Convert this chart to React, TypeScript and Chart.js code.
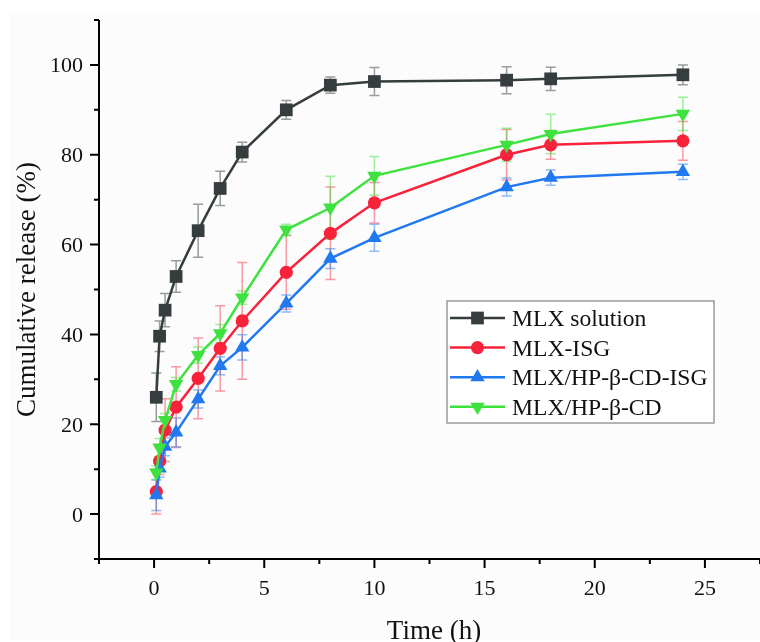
import React, { useEffect, useRef } from 'react';
import { Chart, registerables } from 'chart.js';

Chart.register(...registerables);

// ---------- data ----------
const timeH = [0.1, 0.25, 0.5, 1, 2, 3, 4, 6, 8, 10, 16, 18, 24];
const seriesLabels = ['MLX solution', 'MLX-ISG', 'MLX/HP-β-CD-ISG', 'MLX/HP-β-CD'];
const mlxSolution = [26.0, 39.6, 45.4, 52.9, 63.1, 72.5, 80.6, 90.0, 95.5, 96.3, 96.6, 96.9, 97.8];
const mlxSolutionErr = [5.4, 3.4, 3.7, 3.5, 5.9, 3.8, 2.2, 2.1, 1.8, 3.1, 3.0, 2.6, 2.2];
const mlxIsg = [5.0, 11.8, 18.7, 23.8, 30.2, 36.9, 43.0, 53.8, 62.5, 69.3, 80.0, 82.2, 83.1];
const mlxIsgErr = [5.0, 3.0, 7.0, 9.0, 9.0, 9.5, 13.0, 8.2, 10.3, 4.5, 5.6, 3.2, 4.3];
const mlxHpIsg = [4.2, 10.2, 15.0, 18.2, 25.6, 33.0, 37.1, 46.9, 56.9, 61.5, 72.8, 74.9, 76.2];
const mlxHpIsgErr = [3.4, 2.0, 2.0, 3.2, 2.0, 2.0, 2.8, 1.9, 2.2, 3.0, 2.0, 1.7, 1.7];
const mlxHp = [9.2, 14.8, 20.9, 28.9, 35.4, 40.2, 48.2, 63.3, 68.2, 75.3, 82.2, 84.6, 89.1];
const mlxHpErr = [1.5, 2.0, 1.5, 1.5, 1.8, 2.0, 1.5, 1.2, 7.0, 4.3, 3.7, 4.4, 3.7];

const xTickValues = [0, 5, 10, 15, 20, 25];
const yTickValues = [0, 20, 40, 60, 80, 100];
const xTitle = 'Time (h)';
const yTitle = 'Cumulative release (%)';

const seriesValues = [mlxSolution, mlxIsg, mlxHpIsg, mlxHp];
const seriesErrors = [mlxSolutionErr, mlxIsgErr, mlxHpIsgErr, mlxHpErr];

// ---------- styles ----------
const COLORS = ['#353d3e', '#f8223a', '#2179f0', '#3ee23e'];
const ERR_COLORS = ['rgba(53,61,62,0.5)', 'rgba(248,34,58,0.45)', 'rgba(33,121,240,0.5)', 'rgba(62,226,62,0.5)'];
const STYLES: any[] = ['rect', 'circle', 'triangle', 'triangle'];
const ROTS = [0, 0, 0, 180];
const RADII = [9, 6.6, 8.3, 8.3];
const ORDERS = [3, 2, 1, 0];
const FONT = "'Liberation Serif', 'Times New Roman', serif";

function drawMarker(ctx: CanvasRenderingContext2D, i: number, x: number, y: number) {
  const r = RADII[i];
  ctx.save();
  ctx.fillStyle = COLORS[i];
  ctx.beginPath();
  if (STYLES[i] === 'rect') {
    const s = Math.SQRT1_2 * r;
    ctx.rect(x - s, y - s, 2 * s, 2 * s);
  } else if (STYLES[i] === 'circle') {
    ctx.arc(x, y, r, 0, Math.PI * 2);
  } else {
    let rad = (ROTS[i] * Math.PI) / 180;
    ctx.moveTo(x + Math.sin(rad) * r, y - Math.cos(rad) * r);
    rad += (2 * Math.PI) / 3;
    ctx.lineTo(x + Math.sin(rad) * r, y - Math.cos(rad) * r);
    rad += (2 * Math.PI) / 3;
    ctx.lineTo(x + Math.sin(rad) * r, y - Math.cos(rad) * r);
    ctx.closePath();
  }
  ctx.fill();
  ctx.restore();
}

const customPlugin = {
  id: 'customDecor',
  beforeDraw(chart: any) {
    const ctx = chart.ctx as CanvasRenderingContext2D;
    ctx.save();
    ctx.fillStyle = '#ffffff';
    ctx.fillRect(0, 0, chart.width, chart.height);
    ctx.fillStyle = '#fcfcfc';
    ctx.fillRect(10, 12, chart.width - 10, 628);
    ctx.restore();
  },
  beforeDatasetsDraw(chart: any) {
    const ctx = chart.ctx as CanvasRenderingContext2D;
    const xs = chart.scales.x;
    const ys = chart.scales.y;
    ctx.save();
    ctx.lineWidth = 1.5;
    for (let i = 0; i < seriesValues.length; i++) {
      ctx.strokeStyle = ERR_COLORS[i];
      for (let j = 0; j < timeH.length; j++) {
        const v = seriesValues[i][j];
        const e = seriesErrors[i][j];
        const px = xs.getPixelForValue(timeH[j]);
        const top = ys.getPixelForValue(v + e);
        const bot = ys.getPixelForValue(v - e);
        ctx.beginPath();
        ctx.moveTo(px, top);
        ctx.lineTo(px, bot);
        ctx.moveTo(px - 5, top);
        ctx.lineTo(px + 5, top);
        ctx.moveTo(px - 5, bot);
        ctx.lineTo(px + 5, bot);
        ctx.stroke();
      }
    }
    ctx.restore();
  },
  afterDraw(chart: any) {
    const ctx = chart.ctx as CanvasRenderingContext2D;
    const xs = chart.scales.x;
    const ys = chart.scales.y;
    const area = chart.chartArea;
    ctx.save();
    // axes lines
    ctx.strokeStyle = '#000';
    ctx.lineWidth = 2;
    ctx.beginPath();
    ctx.moveTo(area.left, area.top);
    ctx.lineTo(area.left, area.bottom + 1);
    ctx.moveTo(area.left - 1, area.bottom);
    ctx.lineTo(area.right, area.bottom);
    ctx.stroke();
    // y ticks
    ctx.beginPath();
    for (let v = ys.min; v <= ys.max + 0.001; v += 10) {
      const py = ys.getPixelForValue(v);
      const len = Math.abs(v % 20) < 0.001 ? 9 : 5;
      ctx.moveTo(area.left, py);
      ctx.lineTo(area.left - len, py);
    }
    // x ticks
    for (let v = xs.min; v <= xs.max + 0.001; v += 2.5) {
      const px = xs.getPixelForValue(v);
      const len = Math.abs(v % 5) < 0.001 ? 9 : 5;
      ctx.moveTo(px, area.bottom);
      ctx.lineTo(px, area.bottom + len);
    }
    ctx.stroke();
    // tick labels
    ctx.fillStyle = '#111';
    ctx.font = `22px ${FONT}`;
    ctx.textAlign = 'right';
    ctx.textBaseline = 'alphabetic';
    for (const v of yTickValues) {
      const py = ys.getPixelForValue(v);
      ctx.fillText(String(v), area.left - 16, py + 7.5);
    }
    ctx.textAlign = 'center';
    for (const v of xTickValues) {
      const px = xs.getPixelForValue(v);
      ctx.fillText(String(v), px, area.bottom + 36);
    }
    // titles
    ctx.font = `27px ${FONT}`;
    ctx.textAlign = 'center';
    ctx.fillText(xTitle, 434, 639);
    ctx.save();
    ctx.translate(35, (area.top + area.bottom) / 2);
    ctx.rotate(-Math.PI / 2);
    ctx.fillText(yTitle, 0, 0);
    ctx.restore();
    // legend
    const lx = 447, ly = 301, lw = 267, lh = 122;
    ctx.fillStyle = '#ffffff';
    ctx.fillRect(lx, ly, lw, lh);
    ctx.strokeStyle = '#8c8c8c';
    ctx.lineWidth = 1.3;
    ctx.strokeRect(lx, ly, lw, lh);
    ctx.font = `23.6px ${FONT}`;
    ctx.textAlign = 'left';
    for (let i = 0; i < seriesLabels.length; i++) {
      const ry = 318 + i * 29.6;
      ctx.strokeStyle = COLORS[i];
      ctx.lineWidth = 2.5;
      ctx.beginPath();
      ctx.moveTo(450, ry);
      ctx.lineTo(505, ry);
      ctx.stroke();
      drawMarker(ctx, i, 477.5, ry);
      ctx.fillStyle = '#111';
      ctx.fillText(seriesLabels[i], 512, ry + 8);
    }
    ctx.restore();
  },
};

export default function App() {
  const canvasRef = useRef<HTMLCanvasElement | null>(null);
  useEffect(() => {
    if (!canvasRef.current) return;
    const datasets = seriesValues.map((vals, i) => ({
      label: seriesLabels[i],
      data: vals.map((v, j) => ({ x: timeH[j], y: v })),
      borderColor: COLORS[i],
      backgroundColor: COLORS[i],
      borderWidth: 2.5,
      pointStyle: STYLES[i],
      pointRotation: ROTS[i],
      pointRadius: RADII[i],
      pointBorderWidth: 0,
      pointBackgroundColor: COLORS[i],
      tension: 0,
      fill: false,
      order: ORDERS[i],
      clip: false as any,
    }));
    const chart = new Chart(canvasRef.current, {
      type: 'line',
      data: { datasets },
      options: {
        responsive: false,
        animation: false,
        devicePixelRatio: 1,
        layout: { padding: { left: 99, top: 20, bottom: 83, right: 0 } },
        plugins: { legend: { display: false }, tooltip: { enabled: false } },
        scales: {
          x: { type: 'linear', min: -2.5, max: 27.5, display: false },
          y: { type: 'linear', min: -10, max: 110, display: false },
        },
      },
      plugins: [customPlugin],
    });
    return () => chart.destroy();
  }, []);
  return (
    <div style={{ position: 'fixed', left: 0, top: 0, width: 760, height: 642, overflow: 'hidden', background: '#fff' }}>
      <canvas ref={canvasRef} width={769} height={642} style={{ display: 'block' }} />
    </div>
  );
}
